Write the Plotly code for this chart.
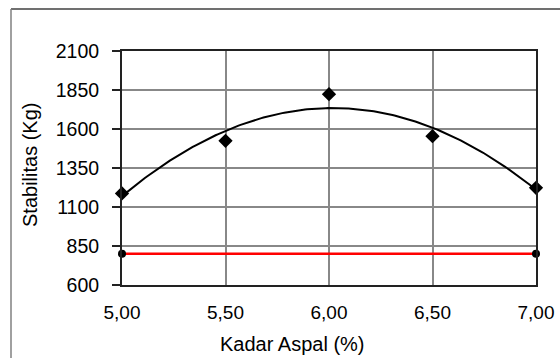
import numpy as np
import plotly.graph_objects as go

# Data
kadar_aspal = [5.00, 5.50, 6.00, 6.50, 7.00]
stabilitas = [1187, 1524, 1823, 1554, 1223]
batas_x = [5.00, 7.00]
batas_y = [800, 800]
x_ticks = [5.00, 5.50, 6.00, 6.50, 7.00]
x_ticktext = ["5,00", "5,50", "6,00", "6,50", "7,00"]
y_ticks = [600, 850, 1100, 1350, 1600, 1850, 2100]
y_ticktext = ["600", "850", "1100", "1350", "1600", "1850", "2100"]

# Quadratic trend line fitted to the data
coef = np.polyfit(kadar_aspal, stabilitas, 2)
xs = np.linspace(min(kadar_aspal), max(kadar_aspal), 200)
ys = np.polyval(coef, xs)

W, H = 560, 358
ML, MR, MT, MB = 122, 24, 51, 73
PW, PH = W - ML - MR, H - MT - MB

def px(x):
    return (x - ML) / PW

def py(y):
    return (H - MB - y) / PH

FONT = "Arial, Liberation Sans, sans-serif"

fig = go.Figure()
fig.add_trace(go.Scatter(x=batas_x, y=batas_y, mode="lines+markers",
                         line=dict(color="#ff0000", width=2.5),
                         marker=dict(symbol="circle", size=8, color="black"),
                         cliponaxis=False, showlegend=False))
fig.add_trace(go.Scatter(x=xs, y=ys, mode="lines",
                         line=dict(color="black", width=2),
                         showlegend=False))
fig.add_trace(go.Scatter(x=kadar_aspal, y=stabilitas, mode="markers",
                         marker=dict(symbol="diamond", size=11, color="black"),
                         cliponaxis=False, showlegend=False))

fig.update_xaxes(range=[5, 7], tickvals=x_ticks, ticktext=x_ticktext,
                 showgrid=True, gridcolor="#888888", gridwidth=1.5,
                 showline=True, linecolor="#222222", linewidth=2, mirror=True,
                 ticks="", zeroline=False, ticklabelstandoff=9, automargin=False,
                 tickfont=dict(family=FONT, size=19, color="black"))
fig.update_yaxes(range=[600, 2100], tickvals=y_ticks, ticktext=y_ticktext,
                 showgrid=True, gridcolor="#888888", gridwidth=1.5,
                 showline=True, linecolor="#222222", linewidth=2, mirror=True,
                 ticks="outside", ticklen=8, tickcolor="#222222", tickwidth=1.5,
                 zeroline=False, ticklabelstandoff=9, automargin=False,
                 tickfont=dict(family=FONT, size=19.5, color="black"))

fig.update_layout(
    width=W, height=H,
    margin=dict(l=ML, r=MR, t=MT, b=MB, pad=0, autoexpand=False),
    paper_bgcolor="white", plot_bgcolor="white",
    annotations=[
        dict(text="Kadar Aspal (%)", x=px(292), y=py(344), xref="paper", yref="paper",
             showarrow=False, xanchor="center", yanchor="middle",
             font=dict(family=FONT, size=20, color="black")),
        dict(text="Stabilitas (Kg)", x=px(30), y=py(165), xref="paper", yref="paper",
             showarrow=False, xanchor="center", yanchor="middle", textangle=-90,
             font=dict(family=FONT, size=20, color="black")),
    ],
    shapes=[
        dict(type="line", xref="paper", yref="paper",
             x0=px(11), x1=px(W + 5), y0=py(9), y1=py(9),
             line=dict(color="#404040", width=1.5)),
        dict(type="line", xref="paper", yref="paper",
             x0=px(11), x1=px(11), y0=py(9), y1=py(H + 5),
             line=dict(color="#808080", width=1.5)),
    ],
)

fig.write_html("out.html")
